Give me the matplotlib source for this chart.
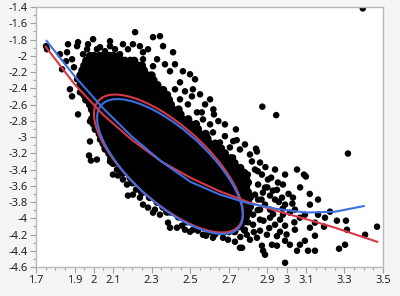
import numpy as np
import matplotlib
matplotlib.use('Agg')
from matplotlib import pyplot as plt
from matplotlib.patches import Ellipse

# scattered points outside the saturated core (x, y)
outer_x = [1.752, 1.757, 1.866, 1.918, 1.913, 1.996, 2.084, 2.151, 2.214, 2.203,
           2.307, 2.343, 2.359, 2.411, 2.255, 1.824, 1.861, 1.835, 1.887, 1.944,
           1.965, 2.016, 1.913, 1.887, 1.876, 1.918, 1.980, 1.980, 2.369, 2.395,
           2.462, 2.514, 2.509, 2.535, 2.447, 2.447, 2.307, 2.255, 2.328, 1.928,
           2.032, 2.058, 2.110, 2.136, 2.177, 2.239, 2.281, 1.856, 1.897, 1.970,
           2.084, 2.421, 2.488, 2.473, 2.421, 2.577, 2.603, 2.680, 2.706, 2.784,
           2.758, 2.810, 2.525, 2.551, 2.603, 2.499, 2.560, 2.566, 2.620, 2.623,
           2.646, 2.874, 2.946, 2.737, 2.680, 2.723, 2.741, 2.841, 2.618, 2.587,
           2.654, 2.722, 2.846, 2.862, 2.836, 2.872, 2.903, 2.852, 2.877, 2.914,
           2.955, 2.981, 2.929, 2.976, 3.033, 3.054, 3.090, 3.100, 3.163, 3.121,
           3.199, 3.147, 3.261, 3.308, 3.313, 3.407, 3.469, 3.194, 3.272, 3.303,
           2.992, 2.888, 2.878, 3.054, 3.069, 3.095, 3.111, 3.147, 3.147, 2.992,
           3.017, 2.950, 2.924, 2.872, 2.846, 2.769, 2.758, 2.794, 2.618, 2.566,
           2.670, 2.966, 2.940, 2.992, 3.069, 3.017, 2.914, 2.826, 2.826, 2.862,
           2.898, 3.318, 2.888, 2.940, 2.992, 3.043, 3.095, 2.914, 2.862, 2.810,
           2.732, 2.696, 2.784, 2.852, 2.888, 2.940, 2.992, 2.799, 2.836, 2.862,
           2.966, 3.043, 3.121, 3.163, 3.225, 2.981, 3.395, 1.975, 1.985, 2.120,
           2.099, 2.125, 2.172, 2.177, 2.203, 2.239, 2.255, 2.281, 2.317, 2.307,
           2.385, 2.395, 2.431, 2.457, 2.499, 2.514, 2.540, 2.058, 2.084, 2.151,
           2.219, 2.343, 2.473, 2.582, 2.628, 2.032, 2.006, 2.016,
           2.82, 2.85, 2.89, 2.92, 2.87, 2.90, 2.95, 2.96, 2.93, 2.98,
           3.01, 3.03, 2.85, 2.88, 2.91, 2.95, 3.00, 3.04, 2.83, 2.80,
           2.78, 2.76, 3.07, 3.12]
outer_y = [-1.881, -1.919, -1.857, -1.832, -1.881, -1.795, -1.820, -1.857, -1.709, -1.857,
           -1.770, -1.758, -1.881, -1.956, -1.956, -1.980, -1.956, -2.165, -2.042, -1.980,
           -1.919, -1.919, -2.289, -2.499, -2.412, -2.721, -2.807, -3.054, -2.104, -2.190,
           -2.190, -2.412, -2.499, -2.696, -2.536, -2.326, -2.128, -2.042, -2.042, -2.449,
           -1.894, -1.943, -1.919, -1.980, -1.919, -1.881, -1.919, -2.067, -2.141, -1.857,
           -1.881, -2.104, -2.598, -2.437, -2.412, -2.598, -2.844, -2.844, -3.128, -3.091,
           -3.153, -3.215, -2.289, -2.474, -2.536, -2.227, -2.696, -2.783, -2.659, -2.721,
           -2.804, -2.626, -2.730, -2.906, -2.989, -3.051, -3.038, -3.144, -2.943, -2.993,
           -3.067, -3.252, -3.178, -3.314, -3.400, -3.462, -3.523, -3.585, -3.684, -3.721,
           -3.560, -3.585, -3.659, -3.746, -3.746, -3.400, -3.462, -3.486, -3.770, -3.832,
           -3.993, -4.054, -4.030, -4.030, -4.141, -4.203, -4.104, -4.104, -4.375, -4.326,
           -4.548, -4.449, -4.400, -4.400, -4.326, -4.277, -4.400, -4.400, -4.215, -4.277,
           -4.326, -4.338, -4.326, -4.338, -4.240, -4.363, -4.363, -4.203, -4.240, -4.203,
           -4.240, -4.017, -4.079, -4.091, -3.993, -3.931, -3.894, -3.956, -4.079, -4.153,
           -4.203, -3.203, -3.832, -3.770, -3.832, -3.894, -3.956, -3.993, -4.017, -4.264,
           -4.289, -4.264, -4.141, -3.770, -3.622, -3.400, -3.462, -3.462, -3.709, -3.894,
           -4.166, -4.141, -4.116, -3.956, -3.919, -3.956, -1.416, -3.227, -3.289, -3.400,
           -3.462, -3.474, -3.585, -3.721, -3.709, -3.746, -3.832, -3.869, -3.894, -3.931,
           -4.054, -4.116, -4.116, -4.091, -4.166, -4.141, -4.153, -3.153, -3.301, -3.523,
           -3.647, -3.956, -4.141, -4.215, -4.203, -3.030, -2.906, -3.277,
           -3.30, -3.42, -3.37, -3.50, -3.77, -3.62, -3.65, -3.80, -3.95, -3.88,
           -3.70, -3.82, -3.90, -4.03, -4.12, -4.22, -4.20, -4.05, -4.17, -4.05,
           -4.15, -4.23, -3.62, -3.70]

# saturated core: one row per line, "y: x x x ..."
core_rows = """
-2.00: 1.98 2.00 2.03 2.05 2.08 2.10 2.13
-2.06: 1.96 1.99 2.01 2.04 2.06 2.09 2.11 2.14 2.16 2.19 2.21
-2.12: 1.95 1.98 2.00 2.03 2.05 2.08 2.10 2.13 2.15 2.18 2.20 2.23 2.25
-2.18: 1.94 1.96 1.99 2.01 2.04 2.06 2.09 2.11 2.14 2.16 2.19 2.21 2.24 2.26
-2.24: 1.93 1.95 1.98 2.00 2.03 2.05 2.08 2.10 2.13 2.15 2.18 2.20 2.23 2.25 2.28 2.30
-2.30: 1.94 1.96 1.99 2.01 2.04 2.06 2.09 2.11 2.14 2.16 2.19 2.21 2.24 2.26 2.29 2.31
-2.36: 1.93 1.95 1.98 2.00 2.03 2.05 2.08 2.10 2.13 2.15 2.18 2.20 2.23 2.25 2.28 2.30 2.33
-2.42: 1.94 1.96 1.99 2.01 2.04 2.06 2.09 2.11 2.14 2.16 2.19 2.21 2.24 2.26 2.29 2.31 2.34 2.36
-2.48: 1.95 1.98 2.00 2.03 2.05 2.08 2.10 2.13 2.15 2.18 2.20 2.23 2.25 2.28 2.30 2.33 2.35 2.38
-2.54: 1.96 1.99 2.01 2.04 2.06 2.09 2.11 2.14 2.16 2.19 2.21 2.24 2.26 2.29 2.31 2.34 2.36 2.39
-2.60: 1.98 2.00 2.03 2.05 2.08 2.10 2.13 2.15 2.18 2.20 2.23 2.25 2.28 2.30 2.33 2.35 2.38 2.40
-2.66: 1.99 2.01 2.04 2.06 2.09 2.11 2.14 2.16 2.19 2.21 2.24 2.26 2.29 2.31 2.34 2.36 2.39 2.41 2.44
-2.72: 2.00 2.03 2.05 2.08 2.10 2.13 2.15 2.18 2.20 2.23 2.25 2.28 2.30 2.33 2.35 2.38 2.40 2.43 2.45
-2.78: 1.99 2.01 2.04 2.06 2.09 2.11 2.14 2.16 2.19 2.21 2.24 2.26 2.29 2.31 2.34 2.36 2.39 2.41 2.44 2.46 2.49
-2.84: 2.00 2.03 2.05 2.08 2.10 2.13 2.15 2.18 2.20 2.23 2.25 2.28 2.30 2.33 2.35 2.38 2.40 2.43 2.45 2.48 2.50 2.53
-2.90: 2.01 2.04 2.06 2.09 2.11 2.14 2.16 2.19 2.21 2.24 2.26 2.29 2.31 2.34 2.36 2.39 2.41 2.44 2.46 2.49 2.51 2.54
-2.96: 2.03 2.05 2.08 2.10 2.13 2.15 2.18 2.20 2.23 2.25 2.28 2.30 2.33 2.35 2.38 2.40 2.43 2.45 2.48 2.50 2.53 2.55 2.58
-3.02: 2.04 2.06 2.09 2.11 2.14 2.16 2.19 2.21 2.24 2.26 2.29 2.31 2.34 2.36 2.39 2.41 2.44 2.46 2.49 2.51 2.54 2.56 2.59
-3.08: 2.05 2.08 2.10 2.13 2.15 2.18 2.20 2.23 2.25 2.28 2.30 2.33 2.35 2.38 2.40 2.43 2.45 2.48 2.50 2.53 2.55 2.58 2.60 2.63
-3.14: 2.06 2.09 2.11 2.14 2.16 2.19 2.21 2.24 2.26 2.29 2.31 2.34 2.36 2.39 2.41 2.44 2.46 2.49 2.51 2.54 2.56 2.59 2.61 2.64 2.66
-3.20: 2.08 2.10 2.13 2.15 2.18 2.20 2.23 2.25 2.28 2.30 2.33 2.35 2.38 2.40 2.43 2.45 2.48 2.50 2.53 2.55 2.58 2.60 2.63 2.65 2.68
-3.26: 2.09 2.11 2.14 2.16 2.19 2.21 2.24 2.26 2.29 2.31 2.34 2.36 2.39 2.41 2.44 2.46 2.49 2.51 2.54 2.56 2.59 2.61 2.64 2.66 2.69 2.71
-3.32: 2.10 2.13 2.15 2.18 2.20 2.23 2.25 2.28 2.30 2.33 2.35 2.38 2.40 2.43 2.45 2.48 2.50 2.53 2.55 2.58 2.60 2.63 2.65 2.68 2.70 2.73
-3.38: 2.14 2.16 2.19 2.21 2.24 2.26 2.29 2.31 2.34 2.36 2.39 2.41 2.44 2.46 2.49 2.51 2.54 2.56 2.59 2.61 2.64 2.66 2.69 2.71 2.74 2.76
-3.44: 2.15 2.18 2.20 2.23 2.25 2.28 2.30 2.33 2.35 2.38 2.40 2.43 2.45 2.48 2.50 2.53 2.55 2.58 2.60 2.63 2.65 2.68 2.70 2.73 2.75 2.78
-3.50: 2.19 2.21 2.24 2.26 2.29 2.31 2.34 2.36 2.39 2.41 2.44 2.46 2.49 2.51 2.54 2.56 2.59 2.61 2.64 2.66 2.69 2.71 2.74 2.76 2.79
-3.56: 2.20 2.23 2.25 2.28 2.30 2.33 2.35 2.38 2.40 2.43 2.45 2.48 2.50 2.53 2.55 2.58 2.60 2.63 2.65 2.68 2.70 2.73 2.75 2.78 2.80
-3.62: 2.24 2.26 2.29 2.31 2.34 2.36 2.39 2.41 2.44 2.46 2.49 2.51 2.54 2.56 2.59 2.61 2.64 2.66 2.69 2.71 2.74 2.76 2.79
-3.68: 2.25 2.28 2.30 2.33 2.35 2.38 2.40 2.43 2.45 2.48 2.50 2.53 2.55 2.58 2.60 2.63 2.65 2.68 2.70 2.73 2.75 2.78 2.80
-3.74: 2.29 2.31 2.34 2.36 2.39 2.41 2.44 2.46 2.49 2.51 2.54 2.56 2.59 2.61 2.64 2.66 2.69 2.71 2.74 2.76 2.79 2.81
-3.80: 2.33 2.35 2.38 2.40 2.43 2.45 2.48 2.50 2.53 2.55 2.58 2.60 2.63 2.65 2.68 2.70 2.73 2.75 2.78 2.80
-3.86: 2.36 2.39 2.41 2.44 2.46 2.49 2.51 2.54 2.56 2.59 2.61 2.64 2.66 2.69 2.71 2.74 2.76 2.79 2.81
-3.92: 2.38 2.40 2.43 2.45 2.48 2.50 2.53 2.55 2.58 2.60 2.63 2.65 2.68 2.70 2.73 2.75 2.78 2.80
-3.98: 2.44 2.46 2.49 2.51 2.54 2.56 2.59 2.61 2.64 2.66 2.69 2.71 2.74 2.76 2.79
-4.04: 2.48 2.50 2.53 2.55 2.58 2.60 2.63 2.65 2.68 2.70 2.73 2.75 2.78
-4.10: 2.54 2.56 2.59 2.61 2.64 2.66 2.69 2.71 2.74 2.76
-4.16: 2.60 2.63 2.65 2.68 2.70 2.73
"""

# fitted curves
red_x = [1.75, 1.90, 2.05, 2.20, 2.35, 2.50, 2.65, 2.80, 2.95, 3.10, 3.25, 3.47]
red_y = [-1.887, -2.35, -2.73, -3.04, -3.30, -3.50, -3.665, -3.80, -3.91, -4.01, -4.115, -4.29]
blue_x = [1.755, 1.90, 2.05, 2.20, 2.35, 2.50, 2.65, 2.80, 2.95, 3.10, 3.25, 3.40]
blue_y = [-1.816, -2.25, -2.65, -3.00, -3.30, -3.55, -3.705, -3.815, -3.885, -3.93, -3.92, -3.85]

# density ellipses: center x, center y, width, height, angle
red_ell = (2.387, -3.326, 1.795, 0.510, -70.3)
blue_ell = (2.395, -3.363, 1.756, 0.496, -70.2)

xtick_vals = [1.7, 1.9, 2, 2.1, 2.3, 2.5, 2.7, 2.9, 3, 3.1, 3.3, 3.5]
xtick_labels = ['1.7', '1.9', '2', '2.1', '2.3', '2.5', '2.7', '2.9', '3', '3.1', '3.3', '3.5']
ytick_vals = [-4.6, -4.4, -4.2, -4.0, -3.8, -3.6, -3.4, -3.2, -3.0, -2.8, -2.6, -2.4, -2.2, -2.0, -1.8, -1.6, -1.4]
ytick_labels = ['-4.6', '-4.4', '-4.2', '-4', '-3.8', '-3.6', '-3.4', '-3.2', '-3', '-2.8', '-2.6', '-2.4', '-2.2', '-2', '-1.8', '-1.6', '-1.4']

RED = '#d8384a'
BLUE = '#3d6fe0'

core_x = []
core_y = []
for line in core_rows.strip().split('\n'):
    yv, xs = line.split(':')
    for xv in xs.split():
        core_x.append(float(xv))
        core_y.append(float(yv))

plt.rcParams['font.family'] = ['Noto Sans', 'DejaVu Sans']
fig = plt.figure(figsize=(4, 2.96), dpi=100, facecolor='#f5f5f5')
ax = fig.add_axes([0.09, 0.098, 0.8675, 0.878])
ax.set_facecolor('white')

ax.scatter(core_x, core_y, s=34, c='black', edgecolors='none', zorder=2)
ax.scatter(outer_x, outer_y, s=22, c='black', edgecolors='none', zorder=2)

for (cx, cy, w, h, ang), col in [(red_ell, RED), (blue_ell, BLUE)]:
    ax.add_patch(Ellipse((cx, cy), w, h, angle=ang, fill=False, edgecolor=col, lw=1.5, zorder=3))

ax.plot(red_x, red_y, color=RED, lw=1.5, zorder=4)
ax.plot(blue_x, blue_y, color=BLUE, lw=1.5, zorder=4)

ax.set_xlim(1.7, 3.5)
ax.set_ylim(-4.6, -1.4)
ax.set_xticks(xtick_vals)
ax.set_xticklabels(xtick_labels)
ax.set_yticks(ytick_vals)
ax.set_yticklabels(ytick_labels)
ax.set_xticks(np.arange(1.7, 3.51, 0.05), minor=True)
ax.set_yticks(np.arange(-4.6, -1.39, 0.1), minor=True)
ax.tick_params(which='major', length=4, width=0.8, color='#a0a0a0', labelsize=8, labelcolor='#222222', pad=2)
ax.tick_params(which='minor', length=2, width=0.8, color='#a0a0a0')
for sp in ax.spines.values():
    sp.set_color('#b8b8b8')
    sp.set_linewidth(1)

fig.savefig('out.png', dpi=100, facecolor=fig.get_facecolor())
